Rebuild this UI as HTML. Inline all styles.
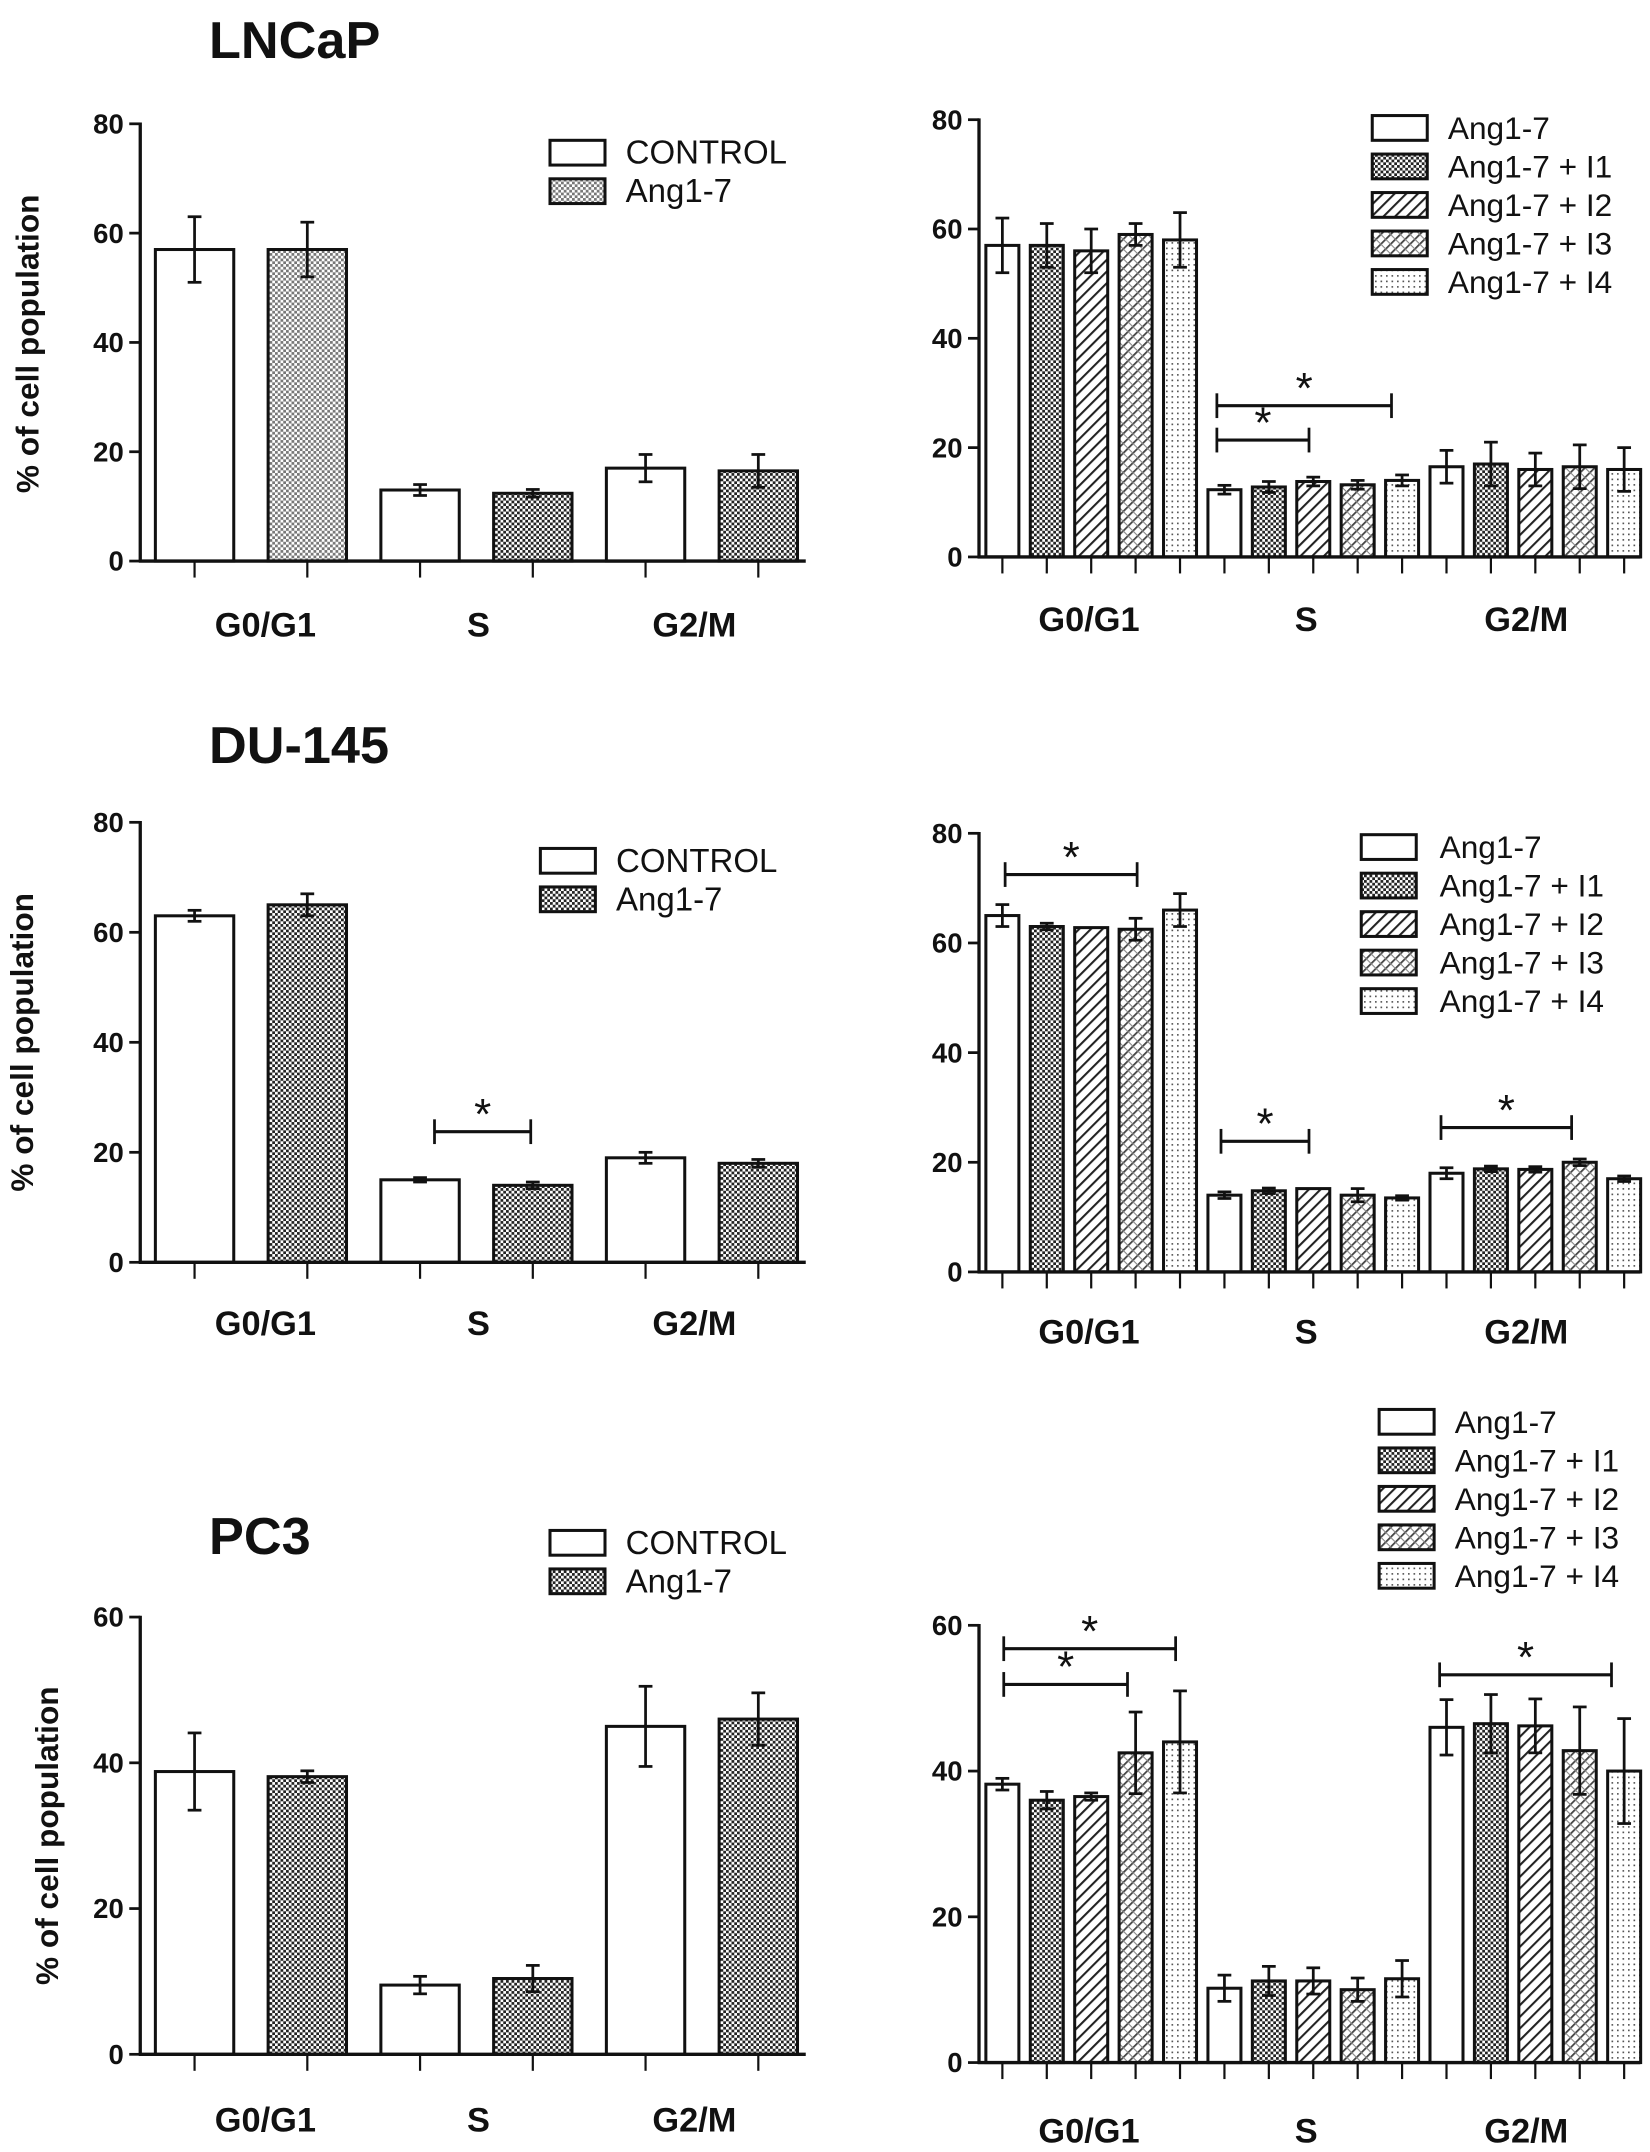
<!DOCTYPE html>
<html><head><meta charset="utf-8"><style>
html,body{margin:0;padding:0;background:#fff;}
svg{display:block;}
text{font-family:"Liberation Sans",Arial,sans-serif;fill:#111;}
</style></head><body>
<svg id="s" width="1650" height="2152" viewBox="0 0 1200 1565" xmlns="http://www.w3.org/2000/svg">
<defs>
<pattern id="chk" width="4" height="4" patternUnits="userSpaceOnUse"><rect width="4" height="4" fill="#fff"/><rect width="2" height="2" fill="#222"/><rect x="2" y="2" width="2" height="2" fill="#222"/></pattern>
<pattern id="chkL" width="4" height="4" patternUnits="userSpaceOnUse"><rect width="4" height="4" fill="#fff"/><rect width="2" height="2" fill="#777"/><rect x="2" y="2" width="2" height="2" fill="#777"/></pattern>
<pattern id="hat" width="6" height="6" patternUnits="userSpaceOnUse" patternTransform="rotate(45)"><rect width="6" height="6" fill="#fff"/><rect width="1.5" height="6" fill="#222"/></pattern>
<pattern id="hat3" width="5" height="5" patternUnits="userSpaceOnUse" patternTransform="rotate(45)"><rect width="5" height="5" fill="#fff"/><rect width="1.3" height="5" fill="#444"/><rect width="5" height="0.8" fill="#888"/></pattern>
<pattern id="dot" width="4" height="4" patternUnits="userSpaceOnUse"><rect width="4" height="4" fill="#fff"/><rect width="1.2" height="1.2" fill="#555"/></pattern>
</defs>
<g id="g"></g>
</svg>
<script>
var out=[];
function L(x1,y1,x2,y2,w){out.push('<line x1="'+x1+'" y1="'+y1+'" x2="'+x2+'" y2="'+y2+'" stroke="#111" stroke-width="'+(w||2)+'"/>');}
function T(x,y,s,sz,anc,bold,extra){out.push('<text x="'+x+'" y="'+y+'" font-size="'+sz+'" text-anchor="'+(anc||'start')+'"'+(bold?' font-weight="bold"':'')+(extra||'')+'>'+s+'</text>');}
function R(x,y,w,h,f){out.push('<rect x="'+x+'" y="'+y+'" width="'+w+'" height="'+h+'" fill="'+f+'" stroke="#111" stroke-width="2.2"/>');}
var fills=['#fff','url(#chk)','url(#hat)','url(#hat3)','url(#dot)'];
function panel(o){
  var ax=o.ax, y0=o.y0, yt=o.yt, max=o.max, sc=(y0-yt)/max;
  o.bars.forEach(function(b,i){
    var x=o.bx+i*o.p, h=b[0]*sc;
    R(x,y0-h,o.w,h,o.fill(i));
    var cx=x+o.w/2, e=b[1]*sc;
    if(e>0){L(cx,y0-h-e,cx,y0-h+e,2);L(cx-5,y0-h-e,cx+5,y0-h-e,2);L(cx-5,y0-h+e,cx+5,y0-h+e,2);}
    L(cx,y0,cx,y0+12,1.6);
  });
  L(ax,yt-1,ax,y0+1,2.4);
  L(ax-1,y0,o.xe,y0,2.4);
  for(var v=0;v<=max;v+=20){var y=y0-v*sc;L(ax-8,y,ax,y,2);T(ax-12,y+7,v,20,'end',true);}
  o.cats.forEach(function(c){T(c[0],o.cy,c[1],25,'middle',true);});
  (o.stars||[]).forEach(function(s){L(s[0],s[2],s[1],s[2],2.2);L(s[0],s[2]-9,s[0],s[2]+9,2);L(s[1],s[2]-9,s[1],s[2]+9,2);T((s[0]+s[1])/2,s[2]-2,'*',32,'middle',false);});
}
function leg(x,y,tx,items,dy,sz){items.forEach(function(it,i){R(x,y+i*dy,40,18,it[0]);T(tx,y+i*dy+17,it[1],sz);});}
function ylab(x,y){T(x,y,'% of cell population',23,'middle',true,' transform="rotate(-90 '+x+' '+y+')"');}
var lf=function(i){return i%2?'url(#chk)':'#fff';};
var rf=function(i){return fills[i%5];};
var lc=function(){return [[193,'G0/G1'],[348,'S'],[505,'G2/M']];};
var rc=[[792,'G0/G1'],[950,'S'],[1110,'G2/M']];
// Row 1
T(152,42,'LNCaP',38,'start',true);
ylab(28,250);
panel({ax:102,y0:408,yt:90,max:80,bx:113,p:82,w:57,xe:586,fill:function(i){return i%2?(i==1?'url(#chkL)':'url(#chk)'):'#fff';},
 bars:[[57,6],[57,5],[13,1],[12.4,0.7],[17,2.5],[16.5,3]],cats:lc(),cy:463});
leg(400,102,455,[['#fff','CONTROL'],['url(#chkL)','Ang1-7']],28,24);
panel({ax:712,y0:405,yt:87,max:80,bx:717,p:32.3,w:24,xe:1193,fill:rf,
 bars:[[57,5],[57,4],[56,4],[59,2],[58,5],[12.3,0.8],[12.8,1],[13.8,0.8],[13.2,0.8],[14,1],[16.5,3],[17,4],[16,3],[16.5,4],[16,4]],
 cats:rc,cy:459,stars:[[885,1012,295],[885,952,320]]});
leg(998,84,1053,[['#fff','Ang1-7'],['url(#chk)','Ang1-7 + I1'],['url(#hat)','Ang1-7 + I2'],['url(#hat3)','Ang1-7 + I3'],['url(#dot)','Ang1-7 + I4']],28,23);
// Row 2
T(152,555,'DU-145',38,'start',true);
ylab(24,758);
panel({ax:102,y0:918,yt:598,max:80,bx:113,p:82,w:57,xe:586,fill:lf,
 bars:[[63,1],[65,2],[15,0.4],[14,0.6],[19,1],[18,0.7]],cats:lc(),cy:971,stars:[[316,386,823]]});
leg(393,617,448,[['#fff','CONTROL'],['url(#chk)','Ang1-7']],28,24);
panel({ax:712,y0:925,yt:606,max:80,bx:717,p:32.3,w:24,xe:1193,fill:rf,
 bars:[[65,2],[63,0.6],[62.8,0],[62.5,2],[66,3],[14,0.6],[14.8,0.5],[15.2,0],[14,1.2],[13.5,0.4],[18,1],[18.8,0.5],[18.7,0.5],[20,0.6],[17,0.5]],
 cats:rc,cy:977,stars:[[731,827,636],[888,952,830],[1048,1143,820]]});
leg(990,607,1047,[['#fff','Ang1-7'],['url(#chk)','Ang1-7 + I1'],['url(#hat)','Ang1-7 + I2'],['url(#hat3)','Ang1-7 + I3'],['url(#dot)','Ang1-7 + I4']],28,23);
// Row 3
T(152,1130,'PC3',38,'start',true);
ylab(42,1335);
panel({ax:102,y0:1494,yt:1176,max:60,bx:113,p:82,w:57,xe:586,fill:lf,
 bars:[[38.8,5.3],[38.1,0.8],[9.5,1.2],[10.4,1.8],[45,5.5],[46,3.6]],cats:lc(),cy:1550});
leg(400,1113,455,[['#fff','CONTROL'],['url(#chk)','Ang1-7']],28,24);
panel({ax:712,y0:1500,yt:1182,max:60,bx:717,p:32.3,w:24,xe:1193,fill:rf,
 bars:[[38.2,0.8],[36,1.2],[36.5,0.5],[42.5,5.6],[44,7],[10.2,1.8],[11.2,2],[11.2,1.8],[10,1.6],[11.5,2.5],[46,3.8],[46.5,4],[46.2,3.7],[42.8,6],[40,7.2]],
 cats:rc,cy:1558,stars:[[730,855,1199],[730,820,1225],[1047,1172,1218]]});
leg(1003,1025,1058,[['#fff','Ang1-7'],['url(#chk)','Ang1-7 + I1'],['url(#hat)','Ang1-7 + I2'],['url(#hat3)','Ang1-7 + I3'],['url(#dot)','Ang1-7 + I4']],28,23);
document.getElementById('g').innerHTML=out.join('');
</script>
</body></html>
